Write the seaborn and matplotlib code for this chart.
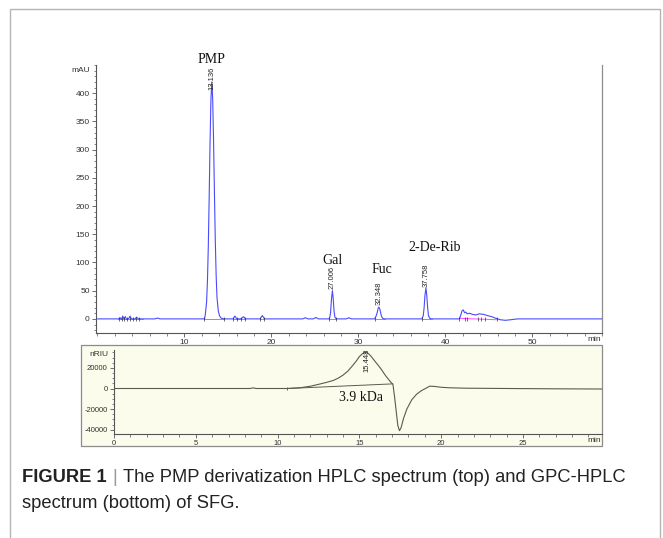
import numpy as np
import pandas as pd
import matplotlib
matplotlib.use("Agg")
import matplotlib.pyplot as plt
import seaborn as sns
from matplotlib.patches import Rectangle
from matplotlib.ticker import MultipleLocator, FixedLocator

# ---------------- data ----------------
# PMP-HPLC chromatogram (min, mAU)
hplc_time = [0.0, 2.4, 2.6, 2.75, 2.9, 3.05, 3.2, 3.35, 3.6, 3.75, 3.9, 4.3, 4.5, 4.7, 5.2,
             6.6, 6.9, 7.2,
             12.3, 12.39, 12.54, 12.64, 12.74, 12.84, 12.94, 13.04, 13.14, 13.24, 13.34, 13.44,
             13.54, 13.64, 13.74, 13.89, 14.04, 14.24, 14.6,
             15.6, 15.8, 16.0, 16.5, 16.8, 17.0, 18.7, 18.95, 19.2, 20.2,
             23.6, 23.9, 24.2, 24.8, 25.1, 25.4,
             26.6, 26.7, 26.8, 26.9, 27.006, 27.1, 27.2, 27.3, 27.45,
             28.6, 28.9, 29.2,
             31.85, 32.0, 32.15, 32.25, 32.348, 32.45, 32.55, 32.65, 32.8, 33.0,
             37.3, 37.45, 37.55, 37.65, 37.758, 37.85, 37.95, 38.05, 38.2, 38.4,
             41.6, 41.75, 41.9, 42.05, 42.2, 42.35, 42.5, 42.8, 43.1, 43.5, 43.9, 44.1, 44.4,
             44.8, 45.3, 45.8, 46.3, 46.9, 47.5, 48.3, 50.0, 58.0]
hplc_signal = [0.0, 0.0, 2.0, -1.0, 5.0, 0.0, 4.0, -1.0, 1.0, 5.0, 0.0, 0.0, 3.0, 0.0, 0.0,
               0.0, 1.5, 0.0,
               0.0, 7.0, 29.0, 66.0, 128.0, 215.0, 311.0, 388.0, 420.0, 392.0, 320.0, 228.0,
               142.0, 78.0, 38.0, 14.0, 5.0, 1.0, 0.0,
               0.0, 5.0, 0.0, 0.0, 4.0, 0.0, 0.0, 6.0, 0.0, 0.0,
               0.0, 2.0, 0.0, 0.0, 2.5, 0.0,
               0.0, 2.0, 12.0, 35.0, 50.0, 36.0, 13.0, 3.0, 0.0,
               0.0, 2.0, 0.0,
               0.0, 4.0, 10.5, 18.0, 21.0, 18.0, 11.0, 4.5, 1.0, 0.0,
               0.0, 5.5, 20.0, 42.0, 55.0, 43.0, 21.0, 6.0, 1.0, 0.0,
               0.0, 6.0, 14.0, 16.0, 11.0, 12.0, 9.0, 10.0, 8.0, 7.0, 9.0, 8.5, 8.0,
               6.0, 4.0, 1.0, -1.5, -2.5, -1.5, 0.0, 0.0, 0.0]

# magenta integration baselines (start, end, value at start, value at end)
base_start = [2.4, 12.3, 15.6, 18.7, 26.6, 31.85, 37.3, 41.6]
base_end = [5.2, 14.6, 17.0, 19.2, 27.45, 33.0, 38.4, 45.9]
base_v0 = [0.0, 0.0, 0.0, 0.0, 0.0, 0.0, 0.0, 1.0]
base_v1 = [0.0, 0.0, 0.0, 0.0, 0.0, 0.0, 0.0, -1.5]
# integration event marks (min)
event_times = [2.5, 2.8, 3.1, 3.4, 3.7, 4.1, 4.4, 4.8, 12.3, 14.6, 15.6, 16.0, 16.5, 17.0,
               18.7, 19.2, 26.6, 27.45, 31.85, 37.3, 41.6, 42.2, 42.5, 43.8, 44.1, 44.5, 45.9]

peak_rt = [13.136, 27.006, 32.348, 37.758]
peak_rt_labels = ["13.136", "27.006", "32.348", "37.758"]
peak_label_y = [405, 53, 24, 57]
compounds = ["PMP", "Gal", "Fuc", "2-De-Rib"]
compound_x = [13.16, 27.07, 32.7, 38.8]
compound_y = [459, 104, 88, 126]

# GPC-HPLC trace (min, nRIU)
gpc_time = [0.0, 8.3, 8.5, 8.7, 10.6, 11.4, 12.0, 12.6, 13.0, 13.4, 13.7, 14.0, 14.3, 14.6,
            14.8, 15.0, 15.2, 15.4, 15.55, 15.7, 16.0, 16.3, 16.6, 16.9, 17.05, 17.15, 17.25,
            17.35, 17.45, 17.55, 17.7, 17.9, 18.2, 18.5, 18.8, 19.1, 19.3, 19.6, 20.0, 20.5,
            21.5, 24.0, 27.0, 29.83]
gpc_signal = [0, 0, 600, 0, 0, 800, 2200, 4400, 6000, 7800, 10000, 13000, 17000, 22500,
              26500, 31000, 34000, 35500, 34000, 31500, 25500, 19500, 12500, 6500, 4000,
              -8000, -22000, -36000, -41000, -38000, -29000, -20000, -11000, -5500, -2000,
              500, 2300, 2000, 1200, 700, 300, 0, -300, -500]
gpc_base_t = [10.6, 17.05]
gpc_base_v = [0, 4500]
gpc_peak_rt = 15.448
gpc_peak_label = "15.448"
mw_label = "3.9 kDa"

top_xticks = [10, 20, 30, 40, 50]
top_yticks = [0, 50, 100, 150, 200, 250, 300, 350, 400]
bot_xticks = [0, 5, 10, 15, 20, 25]
bot_yticks = [-40000, -20000, 0, 20000]

caption_bold = "FIGURE 1"
caption_line1 = "The PMP derivatization HPLC spectrum (top) and GPC-HPLC"
caption_line2 = "spectrum (bottom) of SFG."

# ---------------- style ----------------
sns.set_theme(style="ticks")
plt.rcParams['font.family'] = ['Liberation Sans', 'DejaVu Sans']
plt.rcParams['axes.unicode_minus'] = False

W, H = 663, 538
fig = plt.figure(figsize=(W / 100, H / 100), dpi=100)
fig.patch.set_facecolor('white')


def rect(l, t, r, b):
    return [l / W, 1 - b / H, (r - l) / W, (b - t) / H]


# outer frame
fig.patches.append(Rectangle((10 / W, -0.1), (660 - 10) / W, 1.1 - 9 / H,
                             transform=fig.transFigure, fill=False,
                             edgecolor='#b5b5b5', lw=1.0, zorder=-2))
# cream box for the GPC panel
fig.patches.append(Rectangle((81 / W, 1 - 446 / H), (602 - 81) / W, (446 - 345) / H,
                             transform=fig.transFigure, facecolor='#fcfcec',
                             edgecolor='#8c8c8c', lw=0.9, zorder=-1))

serif = ['Liberation Serif', 'DejaVu Serif']
tick_kw = dict(colors='#555555', labelcolor='#333333', width=0.6)

# ---------------- top panel ----------------
ax1 = fig.add_axes(rect(96, 65, 602, 333))
ax1.set_facecolor('none')
sns.lineplot(x=hplc_time, y=hplc_signal, ax=ax1, color='#4a4aff', lw=0.8,
             estimator=None, sort=False, zorder=3)
for s0, s1, v0, v1 in zip(base_start, base_end, base_v0, base_v1):
    ax1.plot([s0, s1], [v0, v1], color='#ff4dff', lw=0.7, zorder=2)
ax1.vlines(event_times, -3.5, 2.5, color='#222222', lw=0.45, zorder=4)
for rt, lab, yy in zip(peak_rt, peak_rt_labels, peak_label_y):
    ax1.text(rt, yy, lab, rotation=90, ha='center', va='bottom', fontsize=5.5,
             color='#222222', zorder=5)
for name, cx, cy in zip(compounds, compound_x, compound_y):
    ax1.text(cx, cy, name, ha='center', va='center', fontsize=10, family=serif,
             color='#111111', clip_on=False)

ax1.set_xlim(-0.17, 58.0)
ax1.set_ylim(-25, 450)
ax1.xaxis.set_major_locator(FixedLocator(top_xticks))
ax1.xaxis.set_minor_locator(MultipleLocator(2))
ax1.yaxis.set_major_locator(FixedLocator(top_yticks))
ax1.yaxis.set_minor_locator(MultipleLocator(10))
ax1.tick_params(which='major', length=3, pad=1.5, labelsize=6, **tick_kw)
ax1.tick_params(which='minor', length=1.8, width=0.5, colors='#555555')
ax1.spines['top'].set_visible(False)
for sp in ['left', 'bottom']:
    ax1.spines[sp].set_color('#555555')
    ax1.spines[sp].set_linewidth(0.8)
ax1.spines['right'].set_color('#8c8c8c')
ax1.spines['right'].set_linewidth(0.9)
ax1.set_xlabel('')
ax1.set_ylabel('')
ax1.text(-0.012, 441, 'mAU', transform=ax1.get_yaxis_transform(), ha='right',
         va='center', fontsize=6, color='#333333')
ax1.text(0.998, -0.012, 'min', transform=ax1.transAxes, ha='right', va='top',
         fontsize=6, color='#333333')

# ---------------- bottom panel ----------------
ax2 = fig.add_axes(rect(114, 350, 602, 434))
ax2.set_facecolor('none')
ax2.set_zorder(2)
sns.lineplot(x=gpc_time, y=gpc_signal, ax=ax2, color='#5a5a50', lw=0.8,
             estimator=None, sort=False, zorder=3)
ax2.plot(gpc_base_t, gpc_base_v, color='#5a5a50', lw=0.7, zorder=2)
ax2.vlines([gpc_base_t[0]], -1500, 1500, color='#333333', lw=0.5)
ax2.text(gpc_peak_rt, 16000, gpc_peak_label, rotation=90, ha='center', va='bottom',
         fontsize=5.5, color='#222222', zorder=5)
ax2.text(15.1, -9200, mw_label, ha='center', va='center', fontsize=10, family=serif,
         color='#111111')

ax2.set_xlim(0, 29.83)
ax2.set_ylim(-44200, 37400)
ax2.xaxis.set_major_locator(FixedLocator(bot_xticks))
ax2.xaxis.set_minor_locator(MultipleLocator(1))
ax2.yaxis.set_major_locator(FixedLocator(bot_yticks))
ax2.yaxis.set_minor_locator(MultipleLocator(5000))
ax2.tick_params(which='major', length=3, pad=1.5, labelsize=5.5, **tick_kw)
ax2.tick_params(which='minor', length=1.8, width=0.5, colors='#555555')
ax2.spines['top'].set_visible(False)
ax2.spines['right'].set_visible(False)
for sp in ['left', 'bottom']:
    ax2.spines[sp].set_color('#555555')
    ax2.spines[sp].set_linewidth(0.8)
ax2.set_xlabel('')
ax2.set_ylabel('')
ax2.text(-0.012, 33500, 'nRIU', transform=ax2.get_yaxis_transform(), ha='right',
         va='center', fontsize=6, color='#333333')
ax2.text(0.998, -0.04, 'min', transform=ax2.transAxes, ha='right', va='top',
         fontsize=6, color='#333333')

# ---------------- caption ----------------
cap_font = ['Liberation Sans Narrow', 'Liberation Sans', 'DejaVu Sans']
fs = 13.2
renderer = fig.canvas.get_renderer()
y1 = 1 - 478 / H
y2 = 1 - 504 / H
t1 = fig.text(22 / W, y1, caption_bold, fontsize=fs, fontweight='bold', family=cap_font,
              va='center', color='#222222')
bb = t1.get_window_extent(renderer)
t2 = fig.text(bb.x1 / W + 6 / W, y1, '|', fontsize=fs, family=cap_font, va='center',
              color='#999999')
bb2 = t2.get_window_extent(renderer)
fig.text(bb2.x1 / W + 6 / W, y1, caption_line1, fontsize=fs, family=cap_font,
         va='center', color='#222222')
fig.text(22 / W, y2, caption_line2, fontsize=fs, family=cap_font, va='center',
         color='#222222')

fig.savefig('out.png', dpi=100, facecolor='white')
